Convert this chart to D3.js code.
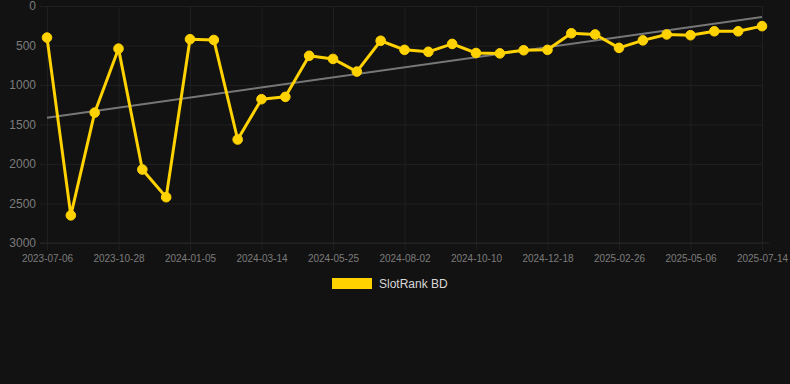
<!DOCTYPE html>
<html>
<head>
<meta charset="utf-8">
<script src="https://cdn.jsdelivr.net/npm/d3@7"></script>
<style>
  html, body { margin: 0; padding: 0; background: #121212; }
  svg { display: block; }
</style>
</head>
<body>
<svg id="chart" width="790" height="384"></svg>
<script>
const dates = [
  "2023-07-06","2023-08-13","2023-09-20","2023-10-28","2023-11-20","2023-12-13",
  "2024-01-05","2024-01-28","2024-02-20","2024-03-14","2024-04-07","2024-05-01",
  "2024-05-25","2024-06-17","2024-07-10","2024-08-02","2024-08-25","2024-09-17",
  "2024-10-10","2024-11-02","2024-11-25","2024-12-18","2025-01-10","2025-02-03",
  "2025-02-26","2025-03-21","2025-04-13","2025-05-06","2025-05-29","2025-06-21",
  "2025-07-14"
];
const ranks = [
  400, 2650, 1350, 540, 2070, 2420,
  420, 430, 1690, 1180, 1150, 630,
  670, 830, 440, 555, 580, 480,
  595, 600, 560, 555, 345, 360,
  530, 435, 360, 370, 320, 320,
  255
];
const tickLabels = ["2023-07-06","2023-10-28","2024-01-05","2024-03-14","2024-05-25",
  "2024-08-02","2024-10-10","2024-12-18","2025-02-26","2025-05-06","2025-07-14"];
const yTicks = [0, 500, 1000, 1500, 2000, 2500, 3000];
const seriesName = "SlotRank BD";

const svg = d3.select("#chart");
const pLeft = 47, pRight = 762, pTop = 6, pBottom = 243;

const x = d3.scalePoint().domain(dates).range([pLeft, pRight]);
const y = d3.scaleLinear().domain([0, 3000]).range([pTop, pBottom]);

const gridColor = "#1f1f1f";
const labelColor = "#7c7c7c";
const font = "'Liberation Sans', Arial, Helvetica, sans-serif";

// horizontal grid
const yAxis = d3.axisLeft(y).tickValues(yTicks).tickSize(-(pRight - pLeft + 7)).tickPadding(4).tickFormat(d3.format("d"));
const gy = svg.append("g").attr("transform", `translate(${pLeft - 7},0)`).call(yAxis);
gy.select(".domain").remove();
gy.selectAll("line").attr("stroke", gridColor).attr("x1", 0);
gy.selectAll("text").attr("fill", labelColor).attr("font-family", font).attr("font-size", 12).attr("x", -4);

// vertical grid
const xAxis = d3.axisBottom(x).tickValues(tickLabels).tickSize(-(pBottom - pTop)).tickPadding(10);
const gx = svg.append("g").attr("transform", `translate(0,${pBottom})`).call(xAxis);
gx.select(".domain").remove();
gx.selectAll("line").attr("stroke", gridColor).attr("y1", 7);
gx.selectAll("text").attr("fill", labelColor).attr("font-family", font).attr("font-size", 10).attr("dy", "0.71em").attr("y", 12);

// baseline
svg.append("line").attr("x1", pLeft - 7).attr("x2", pRight + 7).attr("y1", y(3000)).attr("y2", y(3000)).attr("stroke", "#262626");

// trend line (least squares over index)
const n = ranks.length;
const idx = d3.range(n);
const mx = d3.mean(idx), my = d3.mean(ranks);
const slope = d3.sum(idx, i => (i - mx) * (ranks[i] - my)) / d3.sum(idx, i => (i - mx) ** 2);
const icpt = my - slope * mx;
svg.append("line")
  .attr("x1", x(dates[0])).attr("y1", y(icpt))
  .attr("x2", x(dates[n - 1])).attr("y2", y(icpt + slope * (n - 1)))
  .attr("stroke", "#777777").attr("stroke-width", 2);

// series line
const line = d3.line().x((d, i) => x(dates[i])).y(d => y(d));
svg.append("path").datum(ranks)
  .attr("d", line).attr("fill", "none")
  .attr("stroke", "#ffd200").attr("stroke-width", 3).attr("stroke-linejoin", "round");

svg.append("g").selectAll("circle").data(ranks).join("circle")
  .attr("cx", (d, i) => x(dates[i])).attr("cy", d => y(d)).attr("r", 4.8)
  .attr("fill", "#ffd200").attr("stroke", "#ffd200").attr("stroke-width", 1);

// legend
svg.append("rect").attr("x", 332).attr("y", 278).attr("width", 40).attr("height", 11).attr("fill", "#ffd200");
svg.append("text").attr("x", 379).attr("y", 284).attr("dy", "0.35em")
  .attr("fill", "#d8d8d8").attr("font-family", font).attr("font-size", 12).text(seriesName);
</script>
</body>
</html>
